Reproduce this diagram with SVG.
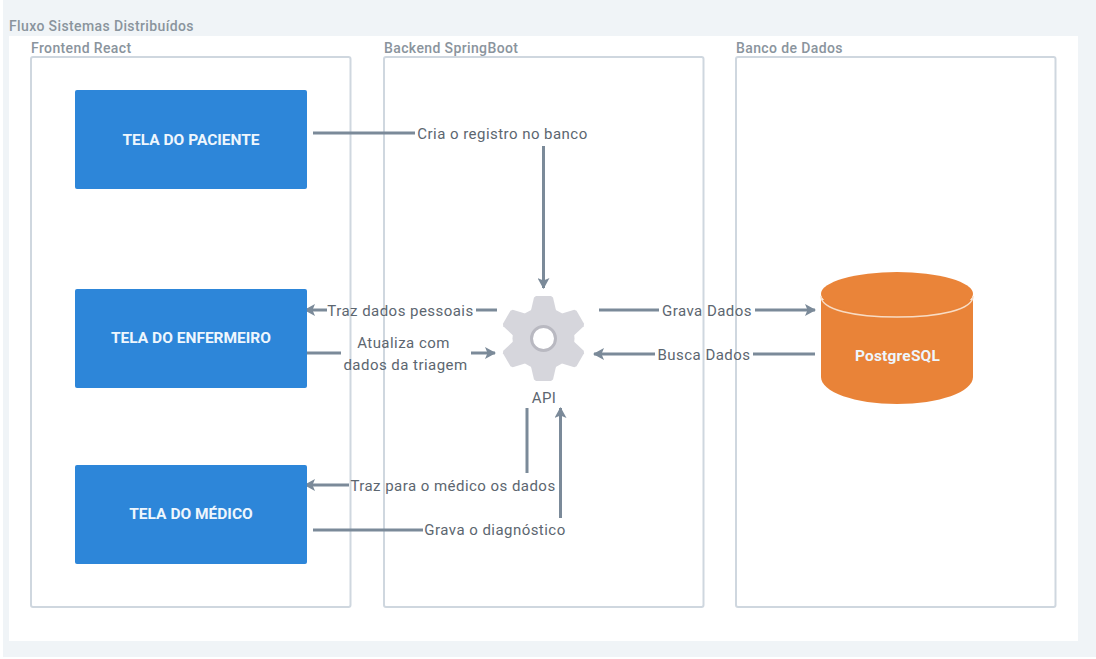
<svg xmlns="http://www.w3.org/2000/svg" xmlns:xlink="http://www.w3.org/1999/xlink" width="1096" height="659" viewBox="0 0 1096 659">
<style>
text{font-family:Roboto,"Liberation Sans",sans-serif}
.lane{fill:#fff;stroke:#cfd7df;stroke-width:2}
.title{font-size:14px;font-weight:500;fill:#8a949d;letter-spacing:.38px}
.screen{fill:#2d86d9}
.nt{font-size:15.5px;font-weight:700;fill:#eef6fd;text-anchor:middle}
.lb{font-size:15px;fill:#5c6670;text-anchor:middle;letter-spacing:.46px}
.c{fill:none;stroke:#7b8a99;stroke-width:3}
.tooth{fill:#d6d6dc}
</style>
<defs>
<marker id="a" markerUnits="userSpaceOnUse" markerWidth="12" markerHeight="12" refX="10" refY="6" orient="auto"><path d="M0 0L11 6L0 12L2.5 6Z" fill="#7b8a99"/></marker>
<polygon id="t" class="tooth" points="-9.5,-41 -7.5,-42.5 7.5,-42.5 9.5,-41 13,-26 -13,-26"/>
</defs>
<rect width="1096" height="659" fill="#fff"/>
<rect x="3" y="0" width="1093" height="657" fill="#f0f4f7"/>
<rect x="9" y="36" width="1069" height="605" fill="#fff"/>
<text class="title" x="9" y="30.500">Fluxo Sistemas Distribuídos</text>
<g id="lane-frontend"><rect class="lane" x="31" y="57" width="319.500" height="550" rx="2"/><text class="title" x="31" y="52.500">Frontend React</text></g>
<g id="lane-backend"><rect class="lane" x="384" y="57" width="319.500" height="550" rx="2"/><text class="title" x="384" y="52.500">Backend SpringBoot</text></g>
<g id="lane-db"><rect class="lane" x="736" y="57" width="319.500" height="550" rx="2"/><text class="title" x="736" y="52.500">Banco de Dados</text></g>
<g id="connectors">
<path class="c" d="M313 133H415"/>
<path class="c" marker-end="url(#a)" d="M543.500 146V288"/>
<path class="c" d="M476 310H497"/>
<path class="c" marker-end="url(#a)" d="M327 310H305"/>
<path class="c" d="M307 353H341"/>
<path class="c" marker-end="url(#a)" d="M471 353H495"/>
<path class="c" d="M599 310H659"/>
<path class="c" marker-end="url(#a)" d="M755 310H815"/>
<path class="c" d="M815 354H753"/>
<path class="c" marker-end="url(#a)" d="M655 354H594"/>
<path class="c" d="M527 408V473"/>
<path class="c" marker-end="url(#a)" d="M349 485H305"/>
<path class="c" d="M313 530H423"/>
<path class="c" marker-end="url(#a)" d="M560.500 518V408"/>
</g>
<g id="node-paciente"><rect class="screen" x="75" y="90" width="232" height="99" rx="2"/><text class="nt" x="191" y="145">TELA DO PACIENTE</text></g>
<g id="node-enfermeiro"><rect class="screen" x="75" y="289" width="232" height="99" rx="2"/><text class="nt" x="191" y="343">TELA DO ENFERMEIRO</text></g>
<g id="node-medico"><rect class="screen" x="75" y="465" width="232" height="99" rx="2"/><text class="nt" x="191" y="519">TELA DO MÉDICO</text></g>
<g id="node-api">
<g transform="translate(543.500 338.500)">
<use xlink:href="#t" href="#t"/><use xlink:href="#t" href="#t" transform="rotate(60)"/><use xlink:href="#t" href="#t" transform="rotate(120)"/><use xlink:href="#t" href="#t" transform="rotate(180)"/><use xlink:href="#t" href="#t" transform="rotate(240)"/><use xlink:href="#t" href="#t" transform="rotate(300)"/>
<circle r="31" fill="#d6d6dc"/><circle r="12" fill="#fff" stroke="#b9b9c1" stroke-width="3"/>
</g>
<text class="lb" x="544" y="403">API</text>
</g>
<g id="node-postgres">
<path d="M821 300V377C821 392 855 404 897 404S973 392 973 377V300Z" fill="#e98338"/>
<ellipse cx="897" cy="294" rx="76" ry="22" fill="#ea8439"/>
<path d="M821 296C821 310 855 317 897 317S973 310 973 296" fill="none" stroke="#f8dcc4" stroke-width="1.500"/>
<text class="nt" x="897.500" y="360.500" style="font-size:15.500px;letter-spacing:.2px">PostgreSQL</text>
</g>
<g id="labels">
<text class="lb" x="502.500" y="138.500">Cria o registro no banco</text>
<text class="lb" x="400.500" y="315.500">Traz dados pessoais</text>
<text class="lb" x="403.500" y="348">Atualiza com</text>
<text class="lb" x="405.500" y="370">dados da triagem</text>
<text class="lb" x="707" y="315.500">Grava Dados</text>
<text class="lb" x="704" y="359.500">Busca Dados</text>
<text class="lb" x="453" y="490.500">Traz para o médico os dados</text>
<text class="lb" x="495" y="535">Grava o diagnóstico</text>
</g>
</svg>
